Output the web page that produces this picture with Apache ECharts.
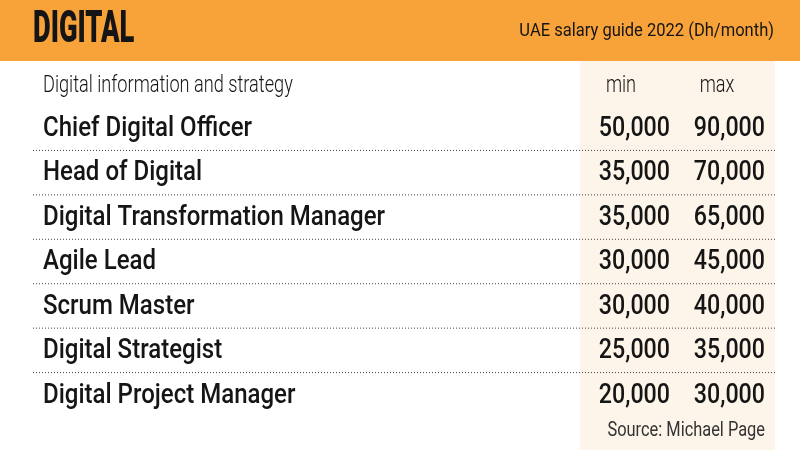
<!DOCTYPE html>
<html>
<head>
<meta charset="utf-8">
<script src="https://cdn.jsdelivr.net/npm/echarts@6/dist/echarts.min.js"></script>
<style>
  html, body { margin: 0; padding: 0; background: #fff; }
  #chart { width: 800px; height: 450px; }
</style>
</head>
<body>
<div id="chart"></div>
<script>
// table content
const title = 'DIGITAL'
const subtitle = 'UAE salary guide 2022 (Dh/month)'
const groupName = 'Digital information and strategy'
const columns = ['min', 'max']
const roles = [
  'Chief Digital Officer',
  'Head of Digital',
  'Digital Transformation Manager',
  'Agile Lead',
  'Scrum Master',
  'Digital Strategist',
  'Digital Project Manager'
]
const minPay = [50000, 35000, 35000, 30000, 30000, 25000, 20000]
const maxPay = [90000, 70000, 65000, 45000, 40000, 35000, 30000]
const source = 'Source: Michael Page'

const FONT = 'Roboto'
const INK = '#151515'
const ORANGE = '#F8A23A'
const BEIGE = '#FDF4EA'

const fmt = v => v.toLocaleString('en-US')

const chart = echarts.init(document.getElementById('chart'), null, { renderer: 'canvas' })

const option = {
  backgroundColor: '#fff',
  animation: false,
  grid: { left: 0, right: 0, top: 106, bottom: 33 },
  xAxis: { type: 'value', min: 0, max: 800, show: false },
  yAxis: {
    type: 'category',
    inverse: true,
    data: roles,
    show: false
  },
  graphic: [
    // header band
    { type: 'rect', z: 0, shape: { x: 0, y: 0, width: 800, height: 61 }, style: { fill: ORANGE } },
    // shaded numbers column
    { type: 'rect', z: 0, shape: { x: 580, y: 61, width: 195, height: 389 }, style: { fill: BEIGE } },
    {
      type: 'text', z: 10, x: 33, y: 31, scaleX: 0.62,
      style: { text: title, fill: INK, fontFamily: FONT, fontWeight: 900, fontSize: 44, align: 'left', verticalAlign: 'middle' }
    },
    {
      type: 'text', z: 10, x: 774, y: 31, scaleX: 0.87,
      style: { text: subtitle, fill: INK, fontFamily: FONT, fontSize: 19, align: 'right', verticalAlign: 'middle' }
    },
    {
      type: 'text', z: 10, x: 43, y: 86, scaleX: 0.79,
      style: { text: groupName, fill: INK, fontFamily: FONT, fontWeight: 300, fontSize: 23, align: 'left', verticalAlign: 'middle' }
    },
    {
      type: 'text', z: 10, x: 621, y: 86, scaleX: 0.79,
      style: { text: columns[0], fill: INK, fontFamily: FONT, fontWeight: 300, fontSize: 23, align: 'center', verticalAlign: 'middle' }
    },
    {
      type: 'text', z: 10, x: 717, y: 86, scaleX: 0.79,
      style: { text: columns[1], fill: INK, fontFamily: FONT, fontWeight: 300, fontSize: 23, align: 'center', verticalAlign: 'middle' }
    },
    {
      type: 'text', z: 10, x: 765, y: 431, scaleX: 0.82,
      style: { text: source, fill: '#333', fontFamily: FONT, fontSize: 20, align: 'right', verticalAlign: 'middle' }
    }
  ],
  series: [
    {
      type: 'custom',
      z: 5,
      data: roles.map((r, i) => [0, i, minPay[i], maxPay[i]]),
      renderItem(params, api) {
        const i = api.value(1)
        const y = api.coord([0, i])[1] + 1
        const band = api.size([0, 1])[1]
        const txt = (text, x, align, sx) => ({
          type: 'text',
          x: x, y: y, scaleX: sx,
          style: { text: text, fill: INK, fontFamily: FONT, fontWeight: 500, fontSize: 27, align: align, verticalAlign: 'middle' }
        })
        const children = [
          txt(roles[i], 43, 'left', 0.89),
          txt(fmt(api.value(2)), 670, 'right', 0.86),
          txt(fmt(api.value(3)), 765, 'right', 0.86)
        ]
        if (i < roles.length - 1) {
          children.push({
            type: 'line',
            shape: { x1: 33, y1: y - 1 + band / 2, x2: 775, y2: y - 1 + band / 2 },
            style: { stroke: '#444', lineWidth: 1, lineDash: [1, 2] }
          })
        }
        return { type: 'group', children: children }
      }
    }
  ]
}

chart.setOption(option)
</script>
</body>
</html>
